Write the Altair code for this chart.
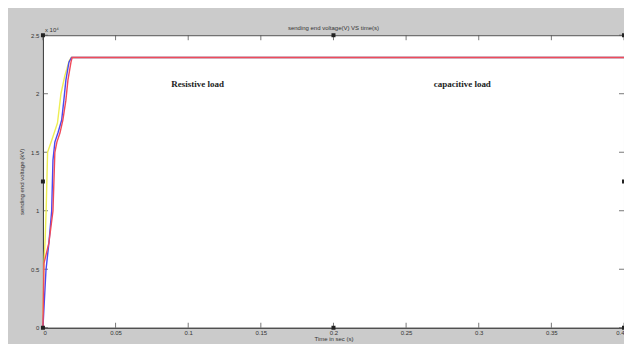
import altair as alt
import pandas as pd

# Time (s) and sending end voltage (V) per series
t_yellow = [0, 0.0005, 0.0015, 0.0022, 0.0032, 0.006, 0.01, 0.0124, 0.015, 0.018, 0.0195, 0.4]
v_yellow = [0, 5000, 7500, 10000, 15000, 16000, 17500, 20000, 21500, 22800, 23100, 23100]

t_blue = [0, 0.0021, 0.0041, 0.006, 0.0069, 0.0082, 0.0103, 0.0129, 0.0144, 0.0158, 0.0179, 0.0197, 0.4]
v_blue = [0, 4950, 7250, 9980, 14330, 15870, 16640, 17750, 19450, 21160, 22700, 23100, 23100]

t_red = [0, 0.0007, 0.0041, 0.0069, 0.0082, 0.0096, 0.0117, 0.0137, 0.0158, 0.0172, 0.0193, 0.0201, 0.4]
v_red = [0, 5500, 7250, 9980, 15000, 15870, 16640, 17750, 19450, 21160, 22700, 23100, 23100]

series_names = ["yellow", "blue", "red"]
series_colors = ["#eeee55", "#4a4af0", "#f04a5a"]

x_ticks = [0, 0.05, 0.1, 0.15, 0.2, 0.25, 0.3, 0.35, 0.4]
y_ticks = [0, 5000, 10000, 15000, 20000, 25000]

marker_t = [0, 0, 0, 0.2, 0.2, 0.4, 0.4, 0.4]
marker_v = [0, 12500, 25000, 0, 25000, 0, 12500, 25000]

note_text = ["Resistive load", "capacitive load"]
note_t = [0.1065, 0.2887]
note_v = [20800, 20800]

title_text = "sending end voltage(V) VS time(s)"

rows = []
for name, ts, vs in zip(series_names, [t_yellow, t_blue, t_red], [v_yellow, v_blue, v_red]):
    for i, (t, v) in enumerate(zip(ts, vs)):
        rows.append({"series": name, "t": t, "v": v, "i": i})
df = pd.DataFrame(rows)

W, H = 582, 293
xs = alt.Scale(domain=[0, 0.4], nice=False)
ys = alt.Scale(domain=[0, 25000], nice=False)

lines = alt.Chart(df).mark_line(strokeWidth=1.4).encode(
    x=alt.X("t:Q", scale=xs,
            axis=alt.Axis(values=x_ticks, title="Time in sec (s)", ticks=False,
                          labelExpr="datum.value == 0 ? '0' : format(datum.value, '.2~f')",
                          grid=False, labelPadding=2, titlePadding=0)),
    y=alt.Y("v:Q", scale=ys,
            axis=alt.Axis(values=y_ticks, title="sending end voltage (kV)", ticks=False,
                          labelExpr="format(datum.value / 10000, '.1~f')",
                          grid=False, labelPadding=4, titlePadding=6)),
    color=alt.Color("series:N", scale=alt.Scale(domain=series_names, range=series_colors), legend=None),
    order=alt.Order("i:Q"),
)

tick_x = pd.DataFrame({"t": x_ticks})
tick_y = pd.DataFrame({"v": y_ticks})
tk = "#555555"
xb = alt.Chart(tick_x).mark_rule(color=tk, strokeWidth=0.8).encode(
    x=alt.X("t:Q", scale=xs), y=alt.value(H), y2=alt.value(H - 5))
xt = alt.Chart(tick_x).mark_rule(color=tk, strokeWidth=0.8).encode(
    x=alt.X("t:Q", scale=xs), y=alt.value(0), y2=alt.value(5))
yl = alt.Chart(tick_y).mark_rule(color=tk, strokeWidth=0.8).encode(
    y=alt.Y("v:Q", scale=ys), x=alt.value(0), x2=alt.value(5))
yr = alt.Chart(tick_y).mark_rule(color=tk, strokeWidth=0.8).encode(
    y=alt.Y("v:Q", scale=ys), x=alt.value(W), x2=alt.value(W - 5))

markers = alt.Chart(pd.DataFrame({"t": marker_t, "v": marker_v})).mark_square(
    color="#222222", size=16, opacity=1).encode(
    x=alt.X("t:Q", scale=xs), y=alt.Y("v:Q", scale=ys))

notes = alt.Chart(pd.DataFrame({"t": note_t, "v": note_v, "txt": note_text})).mark_text(
    font="Liberation Serif", fontWeight="bold", fontSize=9, color="#222222").encode(
    x=alt.X("t:Q", scale=xs), y=alt.Y("v:Q", scale=ys), text="txt:N")

expo = alt.Chart(pd.DataFrame({"txt": ["x 10\u2074"]})).mark_text(
    fontSize=6, color="#333333", align="left", baseline="bottom").encode(
    x=alt.value(2), y=alt.value(-2), text="txt:N")

title = alt.Chart(pd.DataFrame({"txt": [title_text]})).mark_text(
    fontSize=6, color="#333333", align="center", baseline="bottom",
    font="Liberation Sans").encode(
    x=alt.value(W / 2), y=alt.value(-4), text="txt:N")

chart = alt.layer(xb, xt, yl, yr, lines, markers, notes, expo, title).properties(
    width=W, height=H,
    autosize=alt.AutoSizeParams(type="none"),
    padding={"left": 35, "top": 27, "right": 0, "bottom": 16},
    background="#cbcbcb",
).configure_view(
    fill="white", stroke="#555555", strokeWidth=1
).configure_axis(
    labelFontSize=6, titleFontSize=6, labelColor="#333333", titleColor="#333333",
    titleFontWeight="normal", domainColor="#444444", labelFont="Liberation Sans",
    titleFont="Liberation Sans"
)

chart.save("out.html", embed_options={"renderer": "svg", "actions": False})
